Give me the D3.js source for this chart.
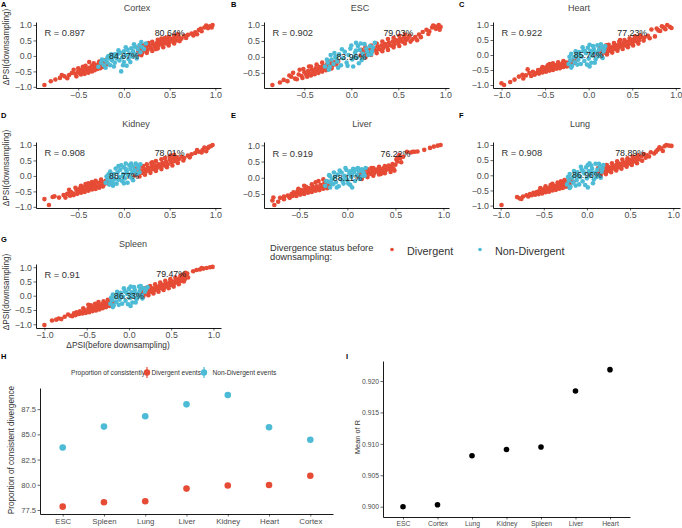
<!DOCTYPE html>
<html><head><meta charset="utf-8">
<script src="https://cdn.jsdelivr.net/npm/d3@7"></script>
<style>body{margin:0;background:#fff}svg{display:block}</style>
</head><body>
<svg id="c" width="682" height="528"></svg>
<script>
// ---------------- DATA ----------------
const tissues = ["Cortex","ESC","Heart","Kidney","Liver","Lung","Spleen"];
const panelLetters = ["A","B","C","D","E","F","G"];
const rValues = [0.897, 0.902, 0.922, 0.908, 0.919, 0.908, 0.91];
const pctDivergent = [80.64, 79.03, 77.23, 78.01, 76.22, 78.89, 79.47];
const pctNonDivergent = [84.67, 83.96, 85.74, 88.77, 88.11, 86.96, 86.33];
const psiTicks = [-1, -0.5, 0, 0.5, 1];

const cortexDivergent = [[-0.87,-0.94],[-0.80,-0.82],[-0.75,-0.76],[-0.70,-0.71],[-0.65,-0.66],[-0.60,-0.62],[-0.57,-0.55],[-0.53,-0.58],[-0.50,-0.50],[-0.48,-0.56],[-0.46,-0.45],[-0.44,-0.52],[-0.42,-0.42],[-0.40,-0.48],[-0.38,-0.38],[-0.36,-0.44],[-0.35,-0.32],[-0.33,-0.40],[-0.31,-0.30],[-0.30,-0.37],[-0.28,-0.26],[-0.27,-0.33],[-0.25,-0.22],[-0.24,-0.30],[-0.22,-0.25],[-0.20,-0.18],[-0.18,-0.27],[-0.38,-0.20],[-0.45,-0.35],[-0.55,-0.45],
 [-0.52,-0.66],[-0.47,-0.60],[-0.43,-0.58],[-0.39,-0.54],[-0.35,-0.50],[-0.32,-0.46],[-0.29,-0.42],[-0.26,-0.40],[-0.50,-0.40],[-0.42,-0.32],[-0.33,-0.24],[-0.27,-0.18],[-0.21,-0.14],[-0.23,-0.36],[-0.62,-0.72],[-0.68,-0.62],
 [0.15,0.05],[0.16,0.15],[0.18,0.22],[0.20,0.10],[0.22,0.18],[0.24,0.28],[0.26,0.20],[0.28,0.33],[0.30,0.25],[0.32,0.38],[0.34,0.30],[0.36,0.42],[0.38,0.34],[0.40,0.45],[0.42,0.38],[0.44,0.48],[0.46,0.40],[0.48,0.52],[0.50,0.44],[0.52,0.55],[0.54,0.48],[0.56,0.58],[0.58,0.50],[0.60,0.62],[0.63,0.56],[0.66,0.65],[0.70,0.68],[0.74,0.72],[0.78,0.76],[0.82,0.84],[0.85,0.80],[0.88,0.92],[0.90,0.98],[0.92,0.90],[0.94,0.96],[0.96,0.92],[0.97,1.00],[0.35,0.22],[0.25,0.35],
 [0.17,0.30],[0.21,0.34],[0.27,0.42],[0.31,0.46],[0.37,0.52],[0.41,0.56],[0.45,0.58],[0.49,0.62],[0.55,0.66],[0.59,0.70],[0.19,0.02],[0.25,0.10],[0.31,0.16],[0.37,0.24],[0.43,0.28],[0.49,0.34],[0.55,0.40],[0.61,0.48],[0.68,0.58],[0.76,0.66],[0.84,0.88],[0.80,0.70]];
const cortexNonDivergent = [[-0.28,-0.35],[-0.25,-0.22],[-0.22,-0.30],[-0.20,-0.15],[-0.18,-0.22],[-0.16,-0.08],[-0.15,-0.30],[-0.13,-0.15],[-0.12,-0.02],[-0.10,-0.22],[-0.08,-0.08],[-0.07,0.05],[-0.05,-0.15],[-0.04,0.10],[-0.02,-0.05],[0.00,0.15],[0.00,-0.20],[0.02,0.02],[0.04,0.20],[0.05,-0.10],[0.06,0.08],[0.08,0.25],[0.09,-0.02],[0.10,0.15],[0.12,0.30],[0.13,0.05],[0.15,0.22],[0.17,0.35],[0.20,0.28],[0.24,0.40],[-0.03,-0.50],[-0.10,0.05],[0.03,-0.32],[-0.17,0.00],[0.18,0.12],
 [-0.24,-0.12],[-0.20,-0.38],[-0.14,0.05],[-0.11,-0.34],[-0.06,0.18],[-0.01,-0.30],[0.02,0.28],[0.07,-0.20],[0.11,0.38],[0.14,-0.08],[0.19,0.45],[0.22,0.22],[-0.18,-0.05],[0.08,0.02]];

const escDivergent = [[-0.84,-0.88],[-0.72,-0.72],[-0.68,-0.76],[-0.64,-0.62],[-0.60,-0.68],[-0.56,-0.55],[-0.53,-0.60],[-0.50,-0.48],[-0.48,-0.56],[-0.46,-0.44],[-0.44,-0.52],[-0.42,-0.40],[-0.40,-0.47],[-0.38,-0.36],[-0.36,-0.43],[-0.34,-0.32],[-0.32,-0.39],[-0.30,-0.28],[-0.28,-0.35],[-0.26,-0.24],[-0.24,-0.31],[-0.22,-0.20],[-0.20,-0.27],[-0.18,-0.17],[-0.16,-0.24],[-0.14,-0.14],[-0.45,-0.30],[-0.55,-0.40],[-0.62,-0.50],
 [-0.58,-0.70],[-0.52,-0.66],[-0.47,-0.62],[-0.43,-0.58],[-0.39,-0.54],[-0.35,-0.50],[-0.31,-0.46],[-0.27,-0.42],[-0.51,-0.38],[-0.43,-0.30],[-0.37,-0.24],[-0.31,-0.18],[-0.25,-0.14],[-0.21,-0.36],[-0.66,-0.58],[-0.76,-0.80],
 [0.10,0.05],[0.12,0.15],[0.14,0.08],[0.16,0.20],[0.18,0.12],[0.20,0.24],[0.22,0.16],[0.24,0.28],[0.26,0.20],[0.28,0.32],[0.30,0.24],[0.32,0.36],[0.34,0.28],[0.36,0.40],[0.38,0.32],[0.40,0.44],[0.42,0.36],[0.44,0.48],[0.46,0.40],[0.48,0.52],[0.50,0.44],[0.52,0.56],[0.54,0.48],[0.56,0.60],[0.58,0.52],[0.60,0.58],[0.62,0.66],[0.65,0.55],[0.68,0.62],[0.72,0.70],[0.76,0.78],[0.80,0.85],[0.83,0.80],[0.86,0.92],[0.88,0.97],[0.90,0.88],[0.93,1.00],[0.95,0.94],[0.94,0.85],[0.70,0.52],
 [0.11,0.22],[0.15,0.30],[0.21,0.36],[0.27,0.42],[0.33,0.48],[0.39,0.56],[0.45,0.60],[0.51,0.66],[0.57,0.70],[0.15,-0.02],[0.21,0.06],[0.27,0.12],[0.33,0.18],[0.39,0.22],[0.45,0.30],[0.51,0.34],[0.57,0.42],[0.63,0.48],[0.74,0.62],[0.82,0.72],[0.87,0.98],[0.91,0.94]];
const escNonDivergent = [[-0.28,-0.30],[-0.25,-0.18],[-0.23,-0.32],[-0.21,-0.08],[-0.19,-0.22],[-0.17,0.00],[-0.15,-0.14],[-0.13,0.08],[-0.11,-0.26],[-0.09,-0.04],[-0.07,0.16],[-0.05,-0.18],[-0.03,0.06],[-0.01,0.26],[0.01,-0.08],[0.02,-0.30],[0.04,0.14],[0.06,-0.02],[0.07,0.34],[0.09,0.22],[0.11,-0.10],[0.12,0.10],[0.14,0.40],[0.16,0.26],[0.18,0.06],[0.20,0.34],[0.22,0.18],[0.25,0.44],[-0.22,0.06],[0.05,0.44],
 [-0.26,-0.08],[-0.24,-0.40],[-0.18,0.12],[-0.14,-0.34],[-0.10,0.24],[-0.04,-0.28],[0.00,0.36],[0.03,0.00],[0.08,-0.20],[0.10,0.42],[0.13,-0.02],[0.17,0.16],[0.21,0.08],[0.23,0.30],[-0.16,-0.04],[0.05,0.20]];

const heartDivergent = [[-1.00,-0.94],[-0.97,-1.00],[-0.90,-0.90],[-0.80,-0.72],[-0.76,-0.66],[-0.72,-0.68],[-0.68,-0.60],[-0.64,-0.56],[-0.60,-0.60],[-0.58,-0.50],[-0.56,-0.56],[-0.54,-0.46],[-0.52,-0.52],[-0.50,-0.43],[-0.48,-0.50],[-0.46,-0.40],[-0.44,-0.47],[-0.42,-0.37],[-0.40,-0.44],[-0.38,-0.34],[-0.36,-0.41],[-0.34,-0.31],[-0.32,-0.38],[-0.30,-0.28],[-0.28,-0.35],[-0.26,-0.25],[-0.24,-0.32],[-0.22,-0.22],[-0.20,-0.29],[-0.18,-0.19],[-0.16,-0.26],[-0.14,-0.16],[-0.70,-0.48],[-0.45,-0.30],
 [-0.66,-0.70],[-0.62,-0.66],[-0.57,-0.62],[-0.53,-0.58],[-0.49,-0.56],[-0.45,-0.52],[-0.41,-0.50],[-0.37,-0.46],[-0.33,-0.44],[-0.29,-0.40],[-0.25,-0.38],[-0.21,-0.34],[-0.53,-0.40],[-0.47,-0.34],[-0.41,-0.28],[-0.35,-0.24],[-0.29,-0.20],[-0.85,-0.82],[-0.75,-0.78],
 [0.10,0.00],[0.12,0.10],[0.14,0.04],[0.16,0.16],[0.18,0.08],[0.20,0.20],[0.22,0.12],[0.24,0.24],[0.26,0.16],[0.28,0.28],[0.30,0.20],[0.32,0.32],[0.34,0.24],[0.36,0.36],[0.38,0.28],[0.40,0.40],[0.42,0.32],[0.44,0.44],[0.46,0.36],[0.48,0.48],[0.50,0.40],[0.52,0.52],[0.54,0.46],[0.56,0.58],[0.58,0.50],[0.60,0.60],[0.64,0.58],[0.68,0.64],[0.72,0.85],[0.78,0.88],[0.82,0.80],[0.86,0.92],[0.88,0.86],[0.90,1.00],[0.93,0.94],[0.95,0.90],[0.36,0.50],[0.20,0.32],
 [0.13,0.22],[0.17,0.26],[0.23,0.34],[0.29,0.40],[0.35,0.44],[0.41,0.50],[0.47,0.56],[0.53,0.62],[0.59,0.66],[0.15,-0.06],[0.21,0.02],[0.27,0.08],[0.33,0.14],[0.39,0.20],[0.45,0.26],[0.51,0.32],[0.57,0.38],[0.63,0.48],[0.70,0.56],[0.76,0.62],[0.84,0.96],[0.80,0.82]];
const heartNonDivergent = [[-0.23,-0.30],[-0.21,-0.18],[-0.19,-0.36],[-0.17,-0.08],[-0.16,-0.24],[-0.14,0.00],[-0.12,-0.16],[-0.11,0.10],[-0.09,-0.30],[-0.08,-0.06],[-0.06,0.16],[-0.05,-0.20],[-0.03,0.06],[-0.01,0.24],[0.00,-0.12],[0.01,-0.38],[0.02,0.14],[0.04,-0.02],[0.05,0.30],[0.06,0.20],[0.08,-0.14],[0.09,0.08],[0.10,0.32],[0.12,0.18],[0.13,0.00],[0.15,0.26],[0.17,0.12],[0.19,0.30],[-0.20,0.04],[0.03,-0.26],
 [-0.22,-0.06],[-0.20,-0.42],[-0.15,0.12],[-0.13,-0.32],[-0.07,0.26],[-0.02,-0.32],[0.01,0.34],[0.03,0.02],[0.07,-0.26],[0.11,-0.04],[0.14,0.36],[0.16,-0.10],[0.18,0.20],[-0.10,-0.02],[0.05,0.10],[-0.04,0.12]];

const kidneyDivergent = [[-0.82,-0.94],[-0.87,-0.75],[-0.76,-0.66],[-0.71,-0.70],[-0.66,-0.62],[-0.62,-0.58],[-0.58,-0.52],[-0.55,-0.57],[-0.52,-0.45],[-0.50,-0.50],[-0.48,-0.40],[-0.46,-0.46],[-0.44,-0.36],[-0.42,-0.43],[-0.40,-0.33],[-0.38,-0.40],[-0.36,-0.30],[-0.34,-0.37],[-0.32,-0.27],[-0.30,-0.34],[-0.28,-0.22],[-0.26,-0.31],[-0.24,-0.20],[-0.22,-0.28],[-0.20,-0.16],[-0.18,-0.24],[-0.16,-0.12],[-0.35,-0.20],[-0.42,-0.26],[-0.60,-0.45],
 [-0.64,-0.70],[-0.59,-0.64],[-0.55,-0.62],[-0.51,-0.58],[-0.47,-0.54],[-0.43,-0.52],[-0.39,-0.48],[-0.35,-0.44],[-0.31,-0.42],[-0.27,-0.38],[-0.23,-0.34],[-0.53,-0.38],[-0.47,-0.32],[-0.39,-0.24],[-0.31,-0.16],[-0.25,-0.12],[-0.78,-0.68],
 [0.12,0.02],[0.14,0.12],[0.16,0.06],[0.18,0.18],[0.20,0.10],[0.22,0.22],[0.24,0.14],[0.26,0.26],[0.28,0.18],[0.30,0.30],[0.32,0.22],[0.34,0.34],[0.36,0.26],[0.38,0.38],[0.40,0.30],[0.42,0.42],[0.44,0.34],[0.46,0.46],[0.48,0.38],[0.50,0.52],[0.52,0.44],[0.54,0.56],[0.56,0.48],[0.58,0.60],[0.60,0.54],[0.63,0.62],[0.66,0.58],[0.70,0.66],[0.74,0.70],[0.78,0.74],[0.82,0.78],[0.86,0.84],[0.90,0.80],[0.92,0.90],[0.95,0.96],[0.97,1.00],[0.88,0.92],[0.50,0.62],[0.30,0.42],
 [0.13,0.24],[0.17,0.28],[0.21,0.32],[0.25,0.38],[0.31,0.44],[0.35,0.48],[0.41,0.54],[0.45,0.58],[0.51,0.66],[0.55,0.68],[0.17,-0.02],[0.23,0.04],[0.29,0.10],[0.35,0.16],[0.41,0.22],[0.47,0.28],[0.53,0.34],[0.59,0.42],[0.65,0.50],[0.72,0.60],[0.80,0.84],[0.85,0.76],[0.93,0.94]];
const kidneyNonDivergent = [[-0.20,-0.22],[-0.18,-0.10],[-0.16,-0.28],[-0.14,-0.02],[-0.13,-0.18],[-0.11,0.06],[-0.10,-0.10],[-0.08,-0.25],[-0.07,0.12],[-0.05,-0.04],[-0.04,0.20],[-0.02,-0.16],[-0.01,0.06],[0.00,0.28],[0.01,-0.08],[0.03,0.14],[0.04,-0.22],[0.05,0.02],[0.06,0.34],[0.07,0.22],[0.08,-0.06],[0.09,0.10],[0.10,0.30],[0.12,0.18],[0.13,0.40],[0.14,0.06],[0.16,0.26],[-0.06,0.32],[-0.12,-0.32],[0.02,0.40],[0.18,0.38],[-0.17,0.05],
 [-0.19,-0.02],[-0.15,0.14],[-0.12,-0.24],[-0.09,0.24],[-0.06,-0.12],[-0.03,0.34],[0.00,-0.24],[0.02,0.22],[0.04,0.06],[0.08,0.40],[0.10,-0.14],[0.11,0.16],[0.15,0.34],[0.17,0.12],[-0.15,-0.16],[-0.01,0.00]];

const liverDivergent = [[-0.77,-0.61],[-0.76,-0.84],[-0.78,-0.70],[-0.70,-0.62],[-0.66,-0.58],[-0.62,-0.55],[-0.58,-0.50],[-0.56,-0.45],[-0.54,-0.52],[-0.52,-0.42],[-0.50,-0.48],[-0.48,-0.38],[-0.46,-0.45],[-0.44,-0.36],[-0.42,-0.42],[-0.40,-0.32],[-0.38,-0.39],[-0.36,-0.28],[-0.34,-0.36],[-0.32,-0.26],[-0.30,-0.33],[-0.28,-0.22],[-0.26,-0.30],[-0.24,-0.18],[-0.22,-0.26],[-0.20,-0.15],[-0.18,-0.22],[-0.30,-0.10],[-0.25,-0.05],[-0.45,-0.25],[-0.60,-0.62],
 [-0.66,-0.66],[-0.61,-0.58],[-0.57,-0.56],[-0.53,-0.56],[-0.49,-0.52],[-0.45,-0.50],[-0.41,-0.46],[-0.37,-0.44],[-0.33,-0.40],[-0.29,-0.38],[-0.25,-0.34],[-0.21,-0.32],[-0.51,-0.34],[-0.43,-0.28],[-0.37,-0.20],[-0.33,-0.14],[-0.72,-0.74],
 [0.12,0.02],[0.14,0.10],[0.16,0.05],[0.18,0.14],[0.20,0.08],[0.22,0.18],[0.24,0.12],[0.26,0.22],[0.28,0.15],[0.30,0.25],[0.32,0.18],[0.34,0.28],[0.36,0.20],[0.38,0.30],[0.40,0.23],[0.42,0.32],[0.44,0.26],[0.46,0.34],[0.48,0.28],[0.50,0.40],[0.52,0.50],[0.52,0.62],[0.54,0.70],[0.58,0.65],[0.62,0.80],[0.66,0.78],[0.70,0.80],[0.73,0.81],[0.80,0.86],[0.90,0.96],[0.94,0.99],[0.97,1.01],[0.35,0.12],[0.25,0.30],
 [0.13,0.18],[0.17,0.22],[0.21,0.26],[0.27,0.30],[0.33,0.34],[0.39,0.36],[0.43,0.38],[0.47,0.42],[0.15,-0.04],[0.21,0.02],[0.27,0.06],[0.33,0.10],[0.39,0.14],[0.45,0.18],[0.49,0.22],[0.51,0.56],[0.55,0.60],[0.56,0.48],[0.68,0.80],[0.86,0.92]];
const liverNonDivergent = [[-0.23,-0.25],[-0.20,-0.12],[-0.18,-0.30],[-0.16,-0.05],[-0.15,-0.20],[-0.13,0.02],[-0.12,-0.14],[-0.10,0.10],[-0.09,-0.26],[-0.07,-0.04],[-0.06,0.16],[-0.04,-0.18],[-0.03,0.06],[-0.01,0.24],[0.00,-0.08],[0.02,0.12],[0.03,-0.22],[0.04,0.02],[0.06,0.28],[0.07,0.18],[0.08,-0.10],[0.10,0.08],[0.11,0.30],[0.12,0.20],[0.14,0.04],[0.15,0.26],[0.17,0.14],[0.19,0.30],[-0.18,0.05],[0.05,-0.30],
 [-0.22,-0.10],[-0.19,0.08],[-0.17,-0.16],[-0.14,0.16],[-0.11,-0.30],[-0.08,0.22],[-0.05,-0.10],[-0.02,0.30],[0.01,-0.18],[0.03,0.20],[0.05,0.08],[0.09,0.26],[0.13,-0.04],[0.16,0.20],[0.18,0.06],[-0.02,-0.02]];

const lungDivergent = [[-0.99,-0.98],[-0.81,-0.72],[-0.78,-0.76],[-0.74,-0.70],[-0.70,-0.66],[-0.66,-0.62],[-0.62,-0.58],[-0.58,-0.55],[-0.55,-0.50],[-0.52,-0.56],[-0.50,-0.46],[-0.48,-0.52],[-0.46,-0.42],[-0.44,-0.49],[-0.42,-0.38],[-0.40,-0.45],[-0.38,-0.35],[-0.36,-0.42],[-0.34,-0.31],[-0.32,-0.38],[-0.30,-0.28],[-0.28,-0.35],[-0.26,-0.24],[-0.24,-0.31],[-0.22,-0.20],[-0.20,-0.27],[-0.18,-0.17],[-0.16,-0.23],[-0.40,-0.28],[-0.30,-0.20],
 [-0.76,-0.78],[-0.68,-0.70],[-0.64,-0.66],[-0.60,-0.64],[-0.56,-0.62],[-0.52,-0.60],[-0.48,-0.56],[-0.44,-0.54],[-0.40,-0.50],[-0.36,-0.48],[-0.32,-0.44],[-0.28,-0.42],[-0.24,-0.38],[-0.54,-0.42],[-0.48,-0.36],[-0.42,-0.32],[-0.34,-0.24],[-0.26,-0.16],[-0.20,-0.12],
 [0.12,0.02],[0.14,0.12],[0.16,0.06],[0.18,0.18],[0.20,0.10],[0.22,0.22],[0.24,0.14],[0.26,0.26],[0.28,0.18],[0.30,0.30],[0.32,0.22],[0.34,0.34],[0.36,0.26],[0.38,0.38],[0.40,0.30],[0.42,0.42],[0.44,0.34],[0.46,0.46],[0.48,0.38],[0.50,0.50],[0.52,0.42],[0.54,0.54],[0.56,0.46],[0.58,0.58],[0.60,0.52],[0.63,0.62],[0.66,0.70],[0.70,0.66],[0.74,0.76],[0.78,0.72],[0.82,0.84],[0.86,0.88],[0.90,0.96],[0.92,1.00],[0.95,0.98],[0.98,0.97],[0.88,0.80],
 [0.13,0.24],[0.17,0.28],[0.23,0.34],[0.29,0.40],[0.35,0.46],[0.41,0.52],[0.47,0.56],[0.53,0.62],[0.59,0.66],[0.16,-0.02],[0.22,0.04],[0.28,0.10],[0.34,0.16],[0.40,0.22],[0.46,0.28],[0.52,0.34],[0.58,0.40],[0.64,0.48],[0.68,0.58],[0.72,0.62],[0.84,0.92],[0.80,0.78]];
const lungNonDivergent = [[-0.23,-0.30],[-0.21,-0.18],[-0.19,-0.38],[-0.17,-0.08],[-0.16,-0.24],[-0.14,0.00],[-0.12,-0.16],[-0.11,0.10],[-0.09,-0.30],[-0.08,-0.06],[-0.06,0.18],[-0.05,-0.20],[-0.03,0.06],[-0.01,0.26],[0.00,-0.10],[0.01,-0.40],[0.02,0.14],[0.04,-0.02],[0.05,0.32],[0.06,0.22],[0.08,-0.14],[0.09,0.08],[0.10,0.38],[0.12,0.18],[0.13,0.00],[0.15,0.28],[0.17,0.12],[0.19,0.34],[-0.20,0.04],[0.03,0.40],
 [-0.22,-0.06],[-0.20,-0.42],[-0.15,0.14],[-0.13,-0.34],[-0.07,0.28],[-0.02,-0.32],[0.01,0.34],[0.03,0.04],[0.07,-0.26],[0.11,-0.06],[0.14,0.38],[0.16,-0.08],[0.18,0.22],[-0.10,-0.02],[0.05,0.10],[-0.04,0.12]];

const spleenDivergent = [[-1.00,-1.03],[-0.91,-0.87],[-0.83,-0.80],[-0.80,-0.82],[-0.72,-0.66],[-0.69,-0.70],[-0.65,-0.62],[-0.62,-0.58],[-0.58,-0.55],[-0.55,-0.60],[-0.53,-0.50],[-0.50,-0.56],[-0.48,-0.46],[-0.46,-0.52],[-0.44,-0.42],[-0.42,-0.48],[-0.40,-0.38],[-0.38,-0.44],[-0.36,-0.34],[-0.34,-0.40],[-0.32,-0.30],[-0.30,-0.37],[-0.28,-0.26],[-0.26,-0.33],[-0.24,-0.22],[-0.22,-0.29],[-0.20,-0.18],[-0.18,-0.24],[-0.36,-0.22],[-0.48,-0.32],
 [-0.76,-0.74],[-0.67,-0.72],[-0.63,-0.68],[-0.59,-0.64],[-0.55,-0.62],[-0.51,-0.60],[-0.47,-0.58],[-0.43,-0.54],[-0.39,-0.52],[-0.35,-0.48],[-0.31,-0.44],[-0.27,-0.40],[-0.23,-0.36],[-0.54,-0.44],[-0.45,-0.34],[-0.40,-0.28],[-0.30,-0.20],[-0.25,-0.14],[-0.86,-0.84],
 [0.14,0.02],[0.16,0.12],[0.18,0.06],[0.20,0.18],[0.22,0.10],[0.24,0.22],[0.26,0.14],[0.28,0.26],[0.30,0.18],[0.32,0.30],[0.34,0.22],[0.36,0.34],[0.38,0.26],[0.40,0.38],[0.42,0.30],[0.44,0.42],[0.46,0.34],[0.48,0.46],[0.50,0.38],[0.52,0.50],[0.54,0.44],[0.56,0.56],[0.58,0.48],[0.60,0.60],[0.62,0.52],[0.64,0.66],[0.66,0.58],[0.68,0.72],[0.69,0.78],[0.64,0.74],[0.80,0.90],[0.84,0.92],[0.88,0.95],[0.92,0.97],[0.96,1.00],[0.99,1.01],
 [0.15,0.22],[0.19,0.26],[0.25,0.34],[0.31,0.40],[0.37,0.46],[0.43,0.52],[0.49,0.58],[0.55,0.64],[0.61,0.70],[0.17,-0.04],[0.23,0.02],[0.29,0.08],[0.35,0.14],[0.41,0.20],[0.47,0.26],[0.53,0.32],[0.59,0.40],[0.65,0.50],[0.70,0.64],[0.67,0.80],[0.76,0.86],[0.86,0.97]];
const spleenNonDivergent = [[-0.22,-0.28],[-0.20,-0.16],[-0.18,-0.34],[-0.16,-0.06],[-0.15,-0.22],[-0.13,0.02],[-0.11,-0.14],[-0.10,0.10],[-0.08,-0.28],[-0.07,-0.04],[-0.05,0.16],[-0.04,-0.18],[-0.02,0.06],[0.00,0.24],[0.01,-0.08],[0.02,-0.36],[0.03,0.12],[0.05,-0.02],[0.06,0.30],[0.07,0.20],[0.09,-0.12],[0.10,0.08],[0.12,0.32],[0.13,0.18],[0.15,0.02],[0.17,0.26],[0.19,0.14],[0.22,0.30],[-0.19,0.04],[0.04,-0.24],
 [-0.21,-0.06],[-0.19,-0.40],[-0.14,0.14],[-0.12,-0.32],[-0.06,0.26],[-0.01,-0.30],[0.02,0.32],[0.04,0.04],[0.08,-0.24],[0.11,-0.04],[0.14,0.34],[0.16,-0.10],[0.20,0.22],[-0.10,-0.02],[0.06,0.12],[-0.03,0.12]];

const divergentPoints = [cortexDivergent, escDivergent, heartDivergent, kidneyDivergent, liverDivergent, lungDivergent, spleenDivergent];
const nonDivergentPoints = [cortexNonDivergent, escNonDivergent, heartNonDivergent, kidneyNonDivergent, liverNonDivergent, lungNonDivergent, spleenNonDivergent];

// Panel H
const hCategories = ["ESC","Spleen","Lung","Liver","Kidney","Heart","Cortex"];
const hDivergent = [77.83, 78.26, 78.36, 79.62, 79.92, 79.98, 80.90];
const hDivergentErr = [0.08, 0.08, 0.08, 0.20, 0.08, 0.08, 0.08];
const hNonDivergent = [83.70, 85.77, 86.80, 87.98, 88.90, 85.70, 84.46];
const hNonDivergentErr = [0.08, 0.08, 0.08, 0.08, 0.08, 0.08, 0.08];
const hTicks = [77.5, 80.0, 82.5, 85.0, 87.5];

// Panel I
const iCategories = ["ESC","Cortex","Lung","Kidney","Spleen","Liver","Heart"];
const iMeanR = [0.9000, 0.9003, 0.9081, 0.9091, 0.9095, 0.9184, 0.9218];
const iErr = [0.0003, 0.0003, 0.0003, 0.0003, 0.0003, 0.0003, 0.0003];
const iTicks = [0.900, 0.905, 0.910, 0.915, 0.920];

// ---------------- DRAW ----------------
const FONT = '"Liberation Sans", Arial, Helvetica, sans-serif';
const RED = "#E64B35", BLUE = "#4DBBD5", TICKC = "#4D4D4D";
const svg = d3.select("#c").style("font-family", FONT);
svg.append("rect").attr("width",682).attr("height",528).attr("fill","#fff");

function styleAxis(g, fs){
  g.attr("font-family", FONT).attr("font-size", fs);
  g.select(".domain").attr("stroke","#000").attr("stroke-width",0.9);
  g.selectAll(".tick line").attr("stroke","#000").attr("stroke-width",0.6);
  g.selectAll(".tick text").attr("fill", TICKC);
}

function txt(x, y, s, o = {}){
  const t = svg.append("text").attr("x",x).attr("y",y).text(s)
    .attr("font-size", o.size || 9).attr("fill", o.fill || "#333")
    .attr("text-anchor", o.anchor || "start");
  if (o.weight) t.attr("font-weight", o.weight);
  if (o.rot) t.attr("transform", `rotate(-90,${x},${y})`);
  return t;
}

const boxes = [
  {x0:36, x1:221, y0:22, y1:88, tx:137, ty:11, lx:1, ly:7},
  {x0:264, x1:449, y0:22, y1:88, tx:360, ty:11, lx:231, ly:7},
  {x0:493, x1:680, y0:22, y1:88, tx:579, ty:11, lx:459, ly:7},
  {x0:36, x1:221, y0:142, y1:208, tx:136, ty:127, lx:1, ly:118},
  {x0:264, x1:449, y0:142, y1:208, tx:362, ty:127, lx:231, ly:118},
  {x0:493, x1:680, y0:142, y1:208, tx:580, ty:127, lx:459, ly:118},
  {x0:36, x1:221, y0:264, y1:328, tx:133, ty:247, lx:1, ly:242}
];
const fmt1 = d3.format(".1f"), fmtPct = d3.format(".2f");

tissues.forEach((name, k) => {
  const b = boxes[k];
  const red = divergentPoints[k], blue = nonDivergentPoints[k];
  const all = red.concat(blue);
  const ex = d3.extent(all, d => d[0]), ey = d3.extent(all, d => d[1]);
  const px = (ex[1]-ex[0])*0.05, py = (ey[1]-ey[0])*0.05;
  const x = d3.scaleLinear([ex[0]-px, ex[1]+px], [b.x0, b.x1]);
  const y = d3.scaleLinear([ey[0]-py, ey[1]+py], [b.y1, b.y0]);
  const xt = psiTicks.filter(t => t >= x.domain()[0] && t <= x.domain()[1]);
  const yt = psiTicks.filter(t => t >= y.domain()[0] && t <= y.domain()[1]);

  const g = svg.append("g");
  g.selectAll("circle.r").data(red).join("circle").attr("cx", d => x(d[0])).attr("cy", d => y(d[1])).attr("r", 2.3).attr("fill", RED);
  g.selectAll("circle.b").data(blue).join("circle").attr("cx", d => x(d[0])).attr("cy", d => y(d[1])).attr("r", 2.3).attr("fill", BLUE);

  const ax = svg.append("g").attr("transform", `translate(0,${b.y1})`)
    .call(d3.axisBottom(x).tickValues(xt).tickFormat(fmt1).tickSize(2.5).tickSizeOuter(0).tickPadding(1.5));
  styleAxis(ax, 8.8);
  const ay = svg.append("g").attr("transform", `translate(${b.x0},0)`)
    .call(d3.axisLeft(y).tickValues(yt).tickFormat(fmt1).tickSize(2.5).tickSizeOuter(0).tickPadding(1.5));
  styleAxis(ay, 8.8);

  txt(x(ex[0]), y(0.75) + 3.3, "R = " + rValues[k], {size: 9.3, fill: "#333"});
  txt(x(0.5), y(0.75) + 3.1, fmtPct(pctDivergent[k]) + "%", {size: 8.8, fill: "#222", anchor: "middle"});
  txt(x(0), y(0) + 3.1, fmtPct(pctNonDivergent[k]) + "%", {size: 8.8, fill: "#222", anchor: "middle"});
  txt(b.tx, b.ty, name, {size: 9, fill: "#444", anchor: "middle"});
  txt(b.lx, b.ly, panelLetters[k], {size: 7.5, fill: "#000", weight: "bold"});
});

// scatter axis titles
txt(9, 47, "\u0394PSI(downsampling)", {size: 8.2, fill: "#333", anchor: "middle", rot: true});
txt(9, 168, "\u0394PSI(downsampling)", {size: 8.2, fill: "#333", anchor: "middle", rot: true});
txt(9, 292, "\u0394PSI(downsampling)", {size: 8.2, fill: "#333", anchor: "middle", rot: true});
txt(118, 348, "\u0394PSI(before downsampling)", {size: 8.3, fill: "#333", anchor: "middle"});

// scatter legend
txt(270, 251, "Divergence status before", {size: 9.3, fill: "#333"});
txt(270, 260, "downsampling:", {size: 9.3, fill: "#333"});
svg.append("circle").attr("cx", 392).attr("cy", 249.5).attr("r", 1.8).attr("fill", RED);
txt(407, 254.5, "Divergent", {size: 10.8, fill: "#333"});
svg.append("circle").attr("cx", 480).attr("cy", 249.5).attr("r", 1.8).attr("fill", BLUE);
txt(495, 254.5, "Non-Divergent", {size: 10.8, fill: "#333"});

// ---------------- Panel H ----------------
{
  const x = d3.scalePoint().domain(hCategories).range([40, 333]).padding(0.55);
  const y = d3.scaleLinear([77.1, 89.6], [514, 388]);
  const ax = svg.append("g").attr("transform", "translate(0,514)")
    .call(d3.axisBottom(x).tickSize(2.5).tickSizeOuter(0).tickPadding(2));
  styleAxis(ax, 7.8);
  const ay = svg.append("g").attr("transform", "translate(40,0)")
    .call(d3.axisLeft(y).tickValues(hTicks).tickFormat(fmt1).tickSize(2.5).tickSizeOuter(0).tickPadding(1.5));
  styleAxis(ay, 7.6);
  const series = [[hDivergent, hDivergentErr, RED], [hNonDivergent, hNonDivergentErr, BLUE]];
  series.forEach(([vals, errs, col]) => {
    const g = svg.append("g");
    hCategories.forEach((c, i) => {
      g.append("line").attr("x1", x(c)).attr("x2", x(c)).attr("y1", y(vals[i]-errs[i])).attr("y2", y(vals[i]+errs[i]))
        .attr("stroke", col).attr("stroke-width", 1.2);
      g.append("circle").attr("cx", x(c)).attr("cy", y(vals[i])).attr("r", 3.3).attr("fill", col);
    });
  });
  txt(14, 450, "Proportion of consistent divergence", {size: 8.2, fill: "#333", anchor: "middle", rot: true});
  txt(1, 359, "H", {size: 7.5, fill: "#000", weight: "bold"});
  // legend
  txt(71, 374.5, "Proportion of consistently:", {size: 6.6, fill: "#333"});
  [[147, RED, "Divergent events", 151.5], [204, BLUE, "Non-Divergent events", 212.5]].forEach(([cx, col, lab, tx]) => {
    svg.append("line").attr("x1", cx).attr("x2", cx).attr("y1", 367).attr("y2", 378).attr("stroke", col).attr("stroke-width", 1.2);
    svg.append("circle").attr("cx", cx).attr("cy", 372.5).attr("r", 3.2).attr("fill", col);
    txt(tx, 374.5, lab, {size: 6.6, fill: "#333"});
  });
}

// ---------------- Panel I ----------------
{
  const x = d3.scalePoint().domain(iCategories).range([383, 630]).padding(0.58);
  const y = d3.scaleLinear([0.89836, 0.92318], [517, 361]);
  const ax = svg.append("g").attr("transform", "translate(0,517)")
    .call(d3.axisBottom(x).tickSize(2.5).tickSizeOuter(0).tickPadding(1.5));
  styleAxis(ax, 6.8);
  const ay = svg.append("g").attr("transform", "translate(383,0)")
    .call(d3.axisLeft(y).tickValues(iTicks).tickFormat(d3.format(".3f")).tickSize(2.5).tickSizeOuter(0).tickPadding(1.5));
  styleAxis(ay, 6.8);
  const g = svg.append("g");
  iCategories.forEach((c, i) => {
    g.append("line").attr("x1", x(c)).attr("x2", x(c)).attr("y1", y(iMeanR[i]-iErr[i])).attr("y2", y(iMeanR[i]+iErr[i]))
      .attr("stroke", "#000").attr("stroke-width", 1.2);
    g.append("circle").attr("cx", x(c)).attr("cy", y(iMeanR[i])).attr("r", 2.8).attr("fill", "#000");
  });
  txt(360, 437, "Mean of R", {size: 7.4, fill: "#333", anchor: "middle", rot: true});
  txt(346, 359, "I", {size: 7.5, fill: "#000", weight: "bold"});
}
</script>
</body></html>
